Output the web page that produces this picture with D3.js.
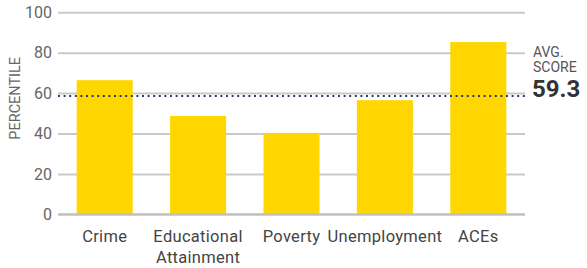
<!DOCTYPE html>
<html>
<head>
<meta charset="utf-8">
<script src="https://cdn.jsdelivr.net/npm/d3@7"></script>
<style>
  body { margin: 0; background: #fff; }
  text { font-family: Roboto, "Noto Sans", sans-serif; }
</style>
</head>
<body>
<div id="chart"></div>
<script>
// data
const categories = ["Crime", "Educational Attainment", "Poverty", "Unemployment", "ACEs"];
const percentiles = [66.4, 48.7, 40, 56.5, 85.3];
const yTicks = [0, 20, 40, 60, 80, 100];
const avgScore = 59.3;

const width = 587, height = 268;
const margin = { top: 12, right: 62, bottom: 54, left: 58 };

const svg = d3.select("#chart").append("svg")
    .attr("width", width)
    .attr("height", height);

const x = d3.scaleBand()
    .domain(categories)
    .range([margin.left, width - margin.right])
    .paddingInner(0.4)
    .paddingOuter(0.2);

const y = d3.scaleLinear()
    .domain([0, 100])
    .range([height - margin.bottom + 0.3, margin.top + 0.3]);

// gridlines + tick labels
const grid = svg.append("g")
    .attr("transform", `translate(${margin.left},0)`)
    .call(d3.axisLeft(y).tickValues(yTicks)
        .tickSize(-(width - margin.left - margin.right))
        .tickPadding(6));
grid.select(".domain").remove();
grid.selectAll(".tick line")
    .attr("stroke", "#c9c9c9")
    .attr("stroke-width", 2);
grid.selectAll(".tick text")
    .attr("fill", "#666")
    .style("font-size", "16px");

// y label
svg.append("text")
    .attr("transform", `translate(20,${(y(0) + y(100)) / 2 - 15}) rotate(-90)`)
    .attr("text-anchor", "middle")
    .attr("fill", "#666")
    .style("font-size", "14.5px")
    .text("PERCENTILE");

// bars
svg.append("g").selectAll("rect")
    .data(categories)
    .join("rect")
    .attr("x", d => x(d))
    .attr("width", x.bandwidth())
    .attr("y", (d, i) => y(percentiles[i]))
    .attr("height", (d, i) => y(0) - y(percentiles[i]))
    .attr("fill", "#ffd600");

// bottom axis line drawn over bars
svg.append("line")
    .attr("x1", margin.left)
    .attr("x2", width - margin.right)
    .attr("y1", y(0))
    .attr("y2", y(0))
    .attr("stroke", "#c0c0c0")
    .attr("stroke-width", 2);

// category labels, wrapping the two-word one
const xLabels = svg.append("g").selectAll("text")
    .data(categories)
    .join("text")
    .attr("x", d => x(d) + x.bandwidth() / 2)
    .attr("y", y(0) + 28)
    .attr("text-anchor", "middle")
    .attr("fill", "#444")
    .style("font-size", "16.5px")
    .style("letter-spacing", "0.3px");
xLabels.each(function(d) {
  const words = d.split(" ");
  const t = d3.select(this);
  words.forEach((w, i) => {
    t.append("tspan")
      .attr("x", x(d) + x.bandwidth() / 2)
      .attr("dy", i === 0 ? 0 : 21)
      .text(w);
  });
});

// average line
svg.append("line")
    .attr("x1", margin.left)
    .attr("x2", width - margin.right)
    .attr("y1", y(avgScore) + 1.5)
    .attr("y2", y(avgScore) + 1.5)
    .attr("stroke", "#2d3a6b")
    .attr("stroke-width", 2)
    .attr("stroke-dasharray", "2,3.6");

const avgX = width - margin.right + 8;
svg.append("text")
    .attr("x", avgX).attr("y", 57)
    .attr("fill", "#555")
    .style("font-size", "14px")
    .text("AVG.");
svg.append("text")
    .attr("x", avgX).attr("y", 72)
    .attr("fill", "#555")
    .style("font-size", "14px")
    .text("SCORE");
svg.append("text")
    .attr("x", avgX - 1).attr("y", 97)
    .attr("fill", "#333")
    .style("font-size", "24px")
    .style("font-weight", "bold")
    .text(avgScore.toFixed(1));
</script>
</body>
</html>
